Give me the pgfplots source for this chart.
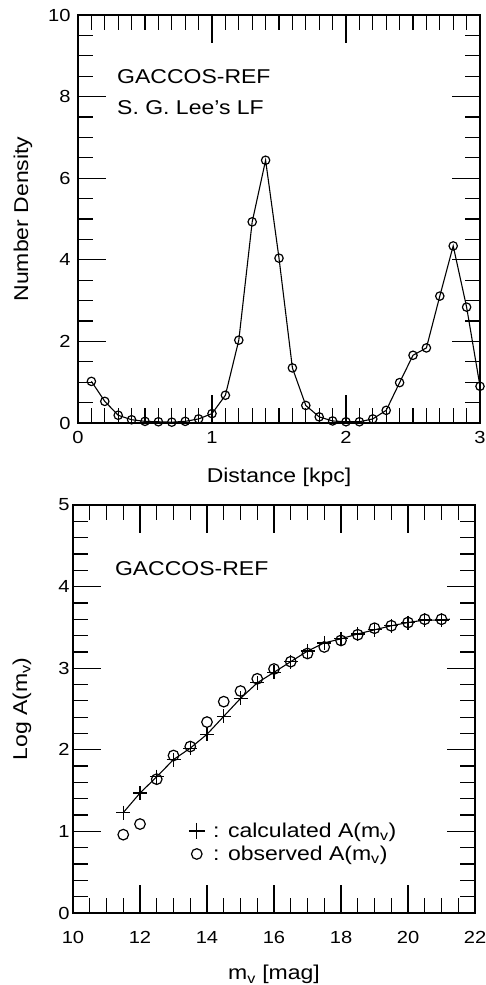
\documentclass[border=0pt]{standalone}
\usepackage{fontspec}
\setmainfont[FakeStretch=1.15]{Liberation Sans}
\usepackage{pgfplots}
\pgfplotsset{compat=1.18}
\newcommand{\lblfont}{\fontsize{20}{24}\selectfont}
\newcommand{\txtfont}{\fontsize{20}{24}\selectfont}
\newcommand{\legfont}{\fontsize{20}{24}\selectfont}
\newcommand{\tckfont}{\fontsize{17.5}{21}\selectfont}
\pgfplotsset{
  myaxis/.style={
    scale only axis,
    width=402pt, height=408pt,
    anchor=south west,
    axis line style={line width=1.7pt},
    tick style={line width=1.3pt, black},
    major tick length=28pt,
    minor tick length=15pt,
    tick align=inside,
    xtick pos=both, ytick pos=both,
    font=\lblfont,
    tick label style={font=\tckfont},
    /pgf/number format/assume math mode=true,
    label style={font=\lblfont},
  }
}
\begin{document}
\begin{tikzpicture}
\useasboundingbox (0,0) rectangle (486pt,985pt);
% ---------------- top panel ----------------
\begin{axis}[myaxis,
  at={(78pt,562pt)},
  xmin=0, xmax=3, ymin=0, ymax=10,
  xtick={0,1,2,3}, minor x tick num=9,
  ytick={0,2,4,6,8,10}, minor y tick num=3,
  xticklabel style={yshift=-5pt},
  yticklabel style={xshift=-4pt},
  xlabel={Distance [kpc]},
  ylabel={Number Density},
  xlabel style={at={(axis description cs:0.5,-0.147)}, anchor=base},
  ylabel style={at={(axis description cs:-0.124,0.5)}, anchor=base},
]
\addplot[black, line width=1.1pt, mark=o, mark size=4.2pt, mark options={line width=1.2pt}] coordinates {
(0.1,1.02) (0.2,0.53) (0.3,0.19) (0.4,0.08) (0.5,0.04) (0.6,0.03) (0.7,0.02)
(0.8,0.04) (0.9,0.10) (1.0,0.23) (1.1,0.68) (1.2,2.03) (1.3,4.93) (1.4,6.44)
(1.5,4.04) (1.6,1.35) (1.7,0.43) (1.8,0.15) (1.9,0.05) (2.0,0.03) (2.1,0.03)
(2.2,0.10) (2.3,0.31) (2.4,0.99) (2.5,1.66) (2.6,1.84) (2.7,3.11) (2.8,4.34)
(2.9,2.84) (3.0,0.90)
};
\node[anchor=base west, font=\txtfont, inner sep=0pt] at (rel axis cs:0.097,0.833) {GACCOS-REF};
\node[anchor=base west, font=\txtfont, inner sep=0pt] at (rel axis cs:0.097,0.755) {S. G. Lee’s LF};
\end{axis}
% ---------------- bottom panel ----------------
\begin{axis}[myaxis,
  at={(73pt,72pt)},
  xmin=10, xmax=22, ymin=0, ymax=5,
  xtick={10,12,...,22}, minor x tick num=3,
  ytick={0,1,...,5}, minor y tick num=4,
  xticklabel style={yshift=-15pt},
  xlabel={m\textsubscript{v} [mag]},
  ylabel={Log A(m\textsubscript{v})},
  xlabel style={at={(axis description cs:0.5,-0.164)}, anchor=base},
  ylabel style={at={(axis description cs:-0.114,0.5)}, anchor=base},
  legend style={draw=none, fill=none, at={(axis cs:13.45,1.13)}, anchor=north west,
    font=\legfont, row sep=3pt, inner sep=0pt},
  legend cell align=left,
]
\addplot[black, line width=1.1pt, mark=+, mark size=7pt, mark options={line width=1.2pt}, forget plot] coordinates {
(11.5,1.23) (12.0,1.47) (12.5,1.67) (13.0,1.88) (13.5,2.02) (14.0,2.19)
(14.5,2.41) (15.0,2.63) (15.5,2.82) (16.0,2.95) (16.5,3.08) (17.0,3.21)
(17.5,3.31) (18.0,3.36) (18.5,3.42) (19.0,3.47) (19.5,3.52) (20.0,3.56)
(20.5,3.59) (21.0,3.59)
};
\addplot[black, line width=1.1pt, forget plot] coordinates {(21.0,3.59) (21.25,3.60)};
\addplot[black, only marks, mark=o, mark size=5.3pt, mark options={line width=1.2pt}, forget plot] coordinates {
(11.5,0.96) (12.0,1.09) (12.5,1.64) (13.0,1.93) (13.5,2.04) (14.0,2.34)
(14.5,2.59) (15.0,2.72) (15.5,2.87) (16.0,2.99) (16.5,3.08) (17.0,3.18)
(17.5,3.26) (18.0,3.34) (18.5,3.41) (19.0,3.49) (19.5,3.52) (20.0,3.56)
(20.5,3.60) (21.0,3.60)
};
\addlegendimage{black, only marks, mark=+, mark size=8pt, mark options={line width=1.2pt}}
\addlegendentry{\ : calculated A(m\textsubscript{v})}
\addlegendimage{black, only marks, mark=o, mark size=5.3pt, mark options={line width=1.2pt}}
\addlegendentry{\ : observed A(m\textsubscript{v})}
\node[anchor=base west, font=\txtfont, inner sep=0pt] at (rel axis cs:0.104,0.828) {GACCOS-REF};
\end{axis}
\end{tikzpicture}
\end{document}
